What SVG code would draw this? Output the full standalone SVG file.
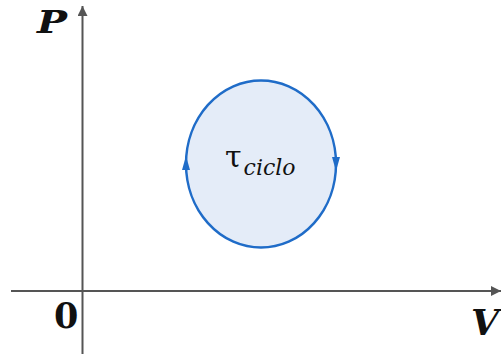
<svg xmlns="http://www.w3.org/2000/svg" width="501" height="354" viewBox="0 0 501 354">
<style>
.ax{stroke:#555;stroke-width:2;fill:none}
.lbl{font-family:"DejaVu Serif",serif;font-weight:bold;fill:#111}
.cyc{fill:#e4ecf8;stroke:#1f6cc8;stroke-width:2.5}
.ar{fill:#1f6cc8}
</style>
<defs>
<marker id="ah" viewBox="0 0 10 10" refX="10" refY="5" markerWidth="5" markerHeight="5" orient="auto" markerUnits="strokeWidth">
<path d="M0,0 L10,5 L0,10 z" fill="#555"/>
</marker>
</defs>
<rect width="501" height="354" fill="#fff"/>
<g id="axes">
<line class="ax" x1="82.5" y1="354" x2="82.5" y2="6" marker-end="url(#ah)"/>
<line class="ax" x1="11" y1="291" x2="501" y2="291" marker-end="url(#ah)"/>
</g>
<g id="cycle">
<ellipse class="cyc" cx="261" cy="164" rx="75" ry="83.5"/>
<path class="ar" d="M186,156 L182,170 L190,170 z"/>
<path class="ar" d="M336,171 L332,157 L340,157 z"/>
<text x="225" y="167" font-family="'DejaVu Serif',serif" font-size="30" fill="#111">τ<tspan font-style="italic" font-size="22" dy="8" dx="2">ciclo</tspan></text>
</g>
<g id="labels">
<text class="lbl" x="37" y="33" font-size="32" font-style="italic" textLength="30" lengthAdjust="spacingAndGlyphs">P</text>
<text class="lbl" x="54" y="328" font-size="35" font-family="'Liberation Serif',serif">0</text>
<text class="lbl" x="471" y="335" font-size="36" font-style="italic">V</text>
</g>
</svg>
